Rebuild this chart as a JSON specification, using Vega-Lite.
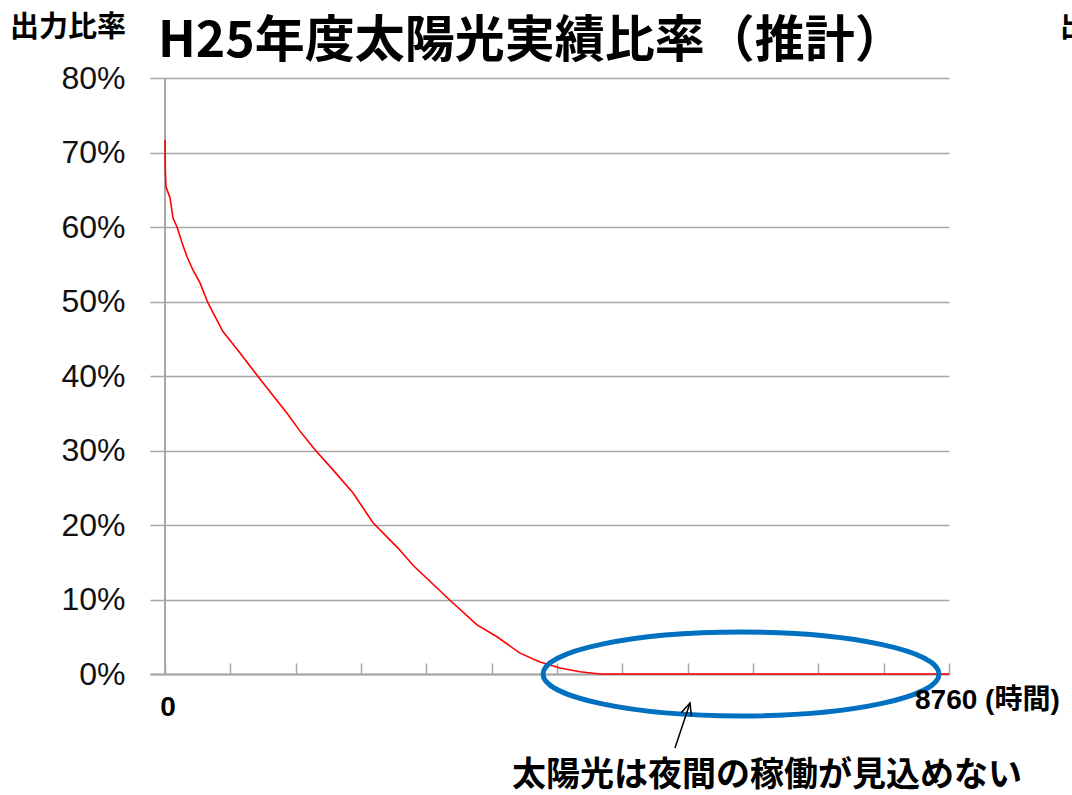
{
  "$schema": "https://vega.github.io/schema/vega-lite/v6.json",
  "width": 799,
  "height": 596,
  "autosize": {"type": "none"},
  "padding": {"left": 150, "top": 78, "right": 123, "bottom": 121},
  "background": "white",
  "config": {"view": {"stroke": null}, "font": "Liberation Sans"},
  "resolve": {"axis": {"x": "independent", "y": "independent"}},
  "datasets": {
    "curve": [
      {"hours": 0, "ratio": 0.717},
      {"hours": 3, "ratio": 0.676},
      {"hours": 11, "ratio": 0.654},
      {"hours": 56, "ratio": 0.639},
      {"hours": 89, "ratio": 0.612},
      {"hours": 134, "ratio": 0.600},
      {"hours": 190, "ratio": 0.579},
      {"hours": 246, "ratio": 0.560},
      {"hours": 313, "ratio": 0.542},
      {"hours": 391, "ratio": 0.525},
      {"hours": 480, "ratio": 0.498},
      {"hours": 645, "ratio": 0.460},
      {"hours": 838, "ratio": 0.431},
      {"hours": 1028, "ratio": 0.401},
      {"hours": 1363, "ratio": 0.350},
      {"hours": 1508, "ratio": 0.326},
      {"hours": 1676, "ratio": 0.301},
      {"hours": 1877, "ratio": 0.274},
      {"hours": 2101, "ratio": 0.243},
      {"hours": 2324, "ratio": 0.203},
      {"hours": 2603, "ratio": 0.169},
      {"hours": 2771, "ratio": 0.146},
      {"hours": 3184, "ratio": 0.099},
      {"hours": 3486, "ratio": 0.066},
      {"hours": 3709, "ratio": 0.050},
      {"hours": 3966, "ratio": 0.028},
      {"hours": 4190, "ratio": 0.016},
      {"hours": 4413, "ratio": 0.008},
      {"hours": 4637, "ratio": 0.003},
      {"hours": 4782, "ratio": 0.001},
      {"hours": 4860, "ratio": 0.0},
      {"hours": 8760, "ratio": 0.0}
    ]
  },
  "layer": [
    {
      "data": {"name": "curve"},
      "mark": {"type": "line", "color": "#ff0000", "strokeWidth": 1.6, "opacity": 0},
      "encoding": {
        "x": {
          "field": "hours", "type": "quantitative",
          "scale": {"domain": [-168, 8760], "nice": false, "zero": false},
          "axis": {
            "values": [0, 730, 1460, 2190, 2920, 3650, 4380, 5110, 5840, 6570, 7300, 8030, 8760],
            "labels": false, "grid": false, "title": null,
            "domainColor": "#a6a6a6", "domainWidth": 2,
            "tickColor": "#a6a6a6", "tickWidth": 1.5, "tickSize": -11
          }
        },
        "y": {
          "field": "ratio", "type": "quantitative",
          "scale": {"domain": [0, 0.8], "nice": false},
          "axis": {
            "values": [0, 0.1, 0.2, 0.3, 0.4, 0.5, 0.6, 0.7, 0.8],
            "format": ".0%", "title": null,
            "domain": false, "ticks": false, "tickSize": 0,
            "grid": true, "gridColor": "#a6a6a6", "gridWidth": 1.5,
            "labelPadding": 25, "labelFontSize": 32, "labelColor": "#111111",
            "labelFont": "Liberation Sans"
          }
        }
      }
    },
    {
      "data": {"values": [{}]},
      "mark": {"type": "rule", "color": "#a6a6a6", "strokeWidth": 2},
      "encoding": {
        "x": {"datum": 0, "type": "quantitative", "axis": null},
        "y": {"datum": 0, "type": "quantitative", "axis": null},
        "y2": {"datum": 0.8}
      }
    },
    {
      "data": {"name": "curve"},
      "mark": {"type": "line", "color": "#ff0000", "strokeWidth": 1.6},
      "encoding": {
        "x": {"field": "hours", "type": "quantitative", "axis": null},
        "y": {"field": "ratio", "type": "quantitative", "axis": null}
      }
    },
    {
      "data": {"values": [{}]},
      "mark": {
        "type": "point", "filled": false, "stroke": "#0070c0", "strokeWidth": 5, "opacity": 1,
        "shape": "M -1 0 C -1 -0.117 -0.552 -0.212 0 -0.212 C 0.552 -0.212 1 -0.117 1 0 C 1 0.117 0.552 0.212 0 0.212 C -0.552 0.212 -1 0.117 -1 0 Z",
        "size": 156816
      },
      "encoding": {
        "x": {"datum": 6436, "type": "quantitative", "axis": null},
        "y": {"datum": 0, "type": "quantitative", "axis": null}
      }
    },
    {
      "data": {"values": [{}]},
      "mark": {"type": "rule", "color": "#000000", "strokeWidth": 1.5},
      "encoding": {
        "x": {"datum": 5698, "type": "quantitative", "axis": null},
        "y": {"datum": -0.0993, "type": "quantitative", "axis": null},
        "x2": {"datum": 5866},
        "y2": {"datum": -0.0389}
      }
    },
    {
      "data": {"values": [{}]},
      "mark": {
        "type": "point", "filled": false, "stroke": "#000000", "strokeWidth": 1.5, "opacity": 1,
        "shape": "M -0.45 1 L 0 0 L 0.45 1", "size": 576, "angle": 18
      },
      "encoding": {
        "x": {"datum": 5866, "type": "quantitative", "axis": null},
        "y": {"datum": -0.0389, "type": "quantitative", "axis": null}
      }
    },
    {
      "data": {"values": [{"label": "H25年度太陽光実績比率（推計）"}]},
      "mark": {"type": "text", "align": "left", "baseline": "middle", "dx": 8, "dy": -36, "fontSize": 50, "fontWeight": "bold", "font": "Noto Sans CJK JP", "color": "#000000"},
      "encoding": {
        "x": {"datum": -168, "type": "quantitative", "axis": null},
        "y": {"datum": 0.8, "type": "quantitative", "axis": null},
        "text": {"field": "label"}
      }
    },
    {
      "data": {"values": [{"label": "出力比率"}]},
      "mark": {"type": "text", "align": "left", "baseline": "middle", "dx": -140, "dy": -50, "fontSize": 29, "fontWeight": "bold", "font": "Noto Sans CJK JP", "color": "#000000"},
      "encoding": {
        "x": {"datum": -168, "type": "quantitative", "axis": null},
        "y": {"datum": 0.8, "type": "quantitative", "axis": null},
        "text": {"field": "label"}
      }
    },
    {
      "data": {"values": [{"label": "出力比率"}]},
      "mark": {"type": "text", "align": "left", "baseline": "middle", "dy": -50, "fontSize": 29, "fontWeight": "bold", "font": "Noto Sans CJK JP", "color": "#000000"},
      "encoding": {
        "x": {"datum": 10000, "type": "quantitative", "axis": null},
        "y": {"datum": 0.8, "type": "quantitative", "axis": null},
        "text": {"field": "label"}
      }
    },
    {
      "data": {"values": [{"label": "0"}]},
      "mark": {"type": "text", "align": "center", "baseline": "middle", "dx": 3, "dy": 34, "fontSize": 28, "fontWeight": "bold", "font": "Liberation Sans", "color": "#000000"},
      "encoding": {
        "x": {"datum": 0, "type": "quantitative", "axis": null},
        "y": {"datum": 0, "type": "quantitative", "axis": null},
        "text": {"field": "label"}
      }
    },
    {
      "data": {"values": [{"label": "8760 (時間)"}]},
      "mark": {"type": "text", "align": "left", "baseline": "middle", "dx": -34, "dy": 27, "fontSize": 28, "fontWeight": "bold", "font": "Liberation Sans, Noto Sans CJK JP", "color": "#000000"},
      "encoding": {
        "x": {"datum": 8760, "type": "quantitative", "axis": null},
        "y": {"datum": 0, "type": "quantitative", "axis": null},
        "text": {"field": "label"}
      }
    },
    {
      "data": {"values": [{"label": "太陽光は夜間の稼働が見込めない"}]},
      "mark": {"type": "text", "align": "center", "baseline": "middle", "dy": 102, "fontSize": 34, "fontWeight": "bold", "font": "Noto Sans CJK JP", "color": "#000000"},
      "encoding": {
        "x": {"datum": 6726, "type": "quantitative", "axis": null},
        "y": {"datum": 0, "type": "quantitative", "axis": null},
        "text": {"field": "label"}
      }
    }
  ]
}
